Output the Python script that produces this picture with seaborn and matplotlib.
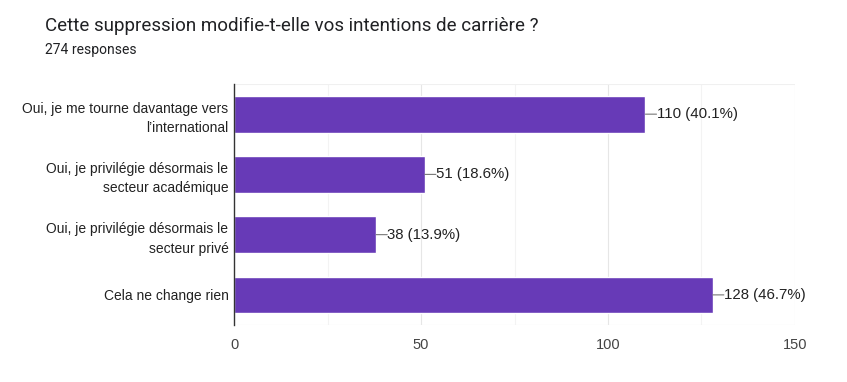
import matplotlib
matplotlib.use("Agg")
import matplotlib.pyplot as plt
import seaborn as sns
import pandas as pd

# data
categories = [
    "Oui, je me tourne davantage vers\nl\u2019international",
    "Oui, je privil\u00e9gie d\u00e9sormais le\nsecteur acad\u00e9mique",
    "Oui, je privil\u00e9gie d\u00e9sormais le\nsecteur priv\u00e9",
    "Cela ne change rien",
]
counts = [110, 51, 38, 128]
percents = [40.1, 18.6, 13.9, 46.7]
x_ticks = [0, 50, 100, 150]
title = "Cette suppression modifie-t-elle vos intentions de carri\u00e8re ?"
subtitle = "274 responses"

df = pd.DataFrame({"answer": categories, "count": counts})

sns.set_style("white")
plt.rcParams["font.family"] = ["Liberation Sans", "DejaVu Sans"]

fig = plt.figure(figsize=(8.47, 3.82), dpi=100)
ax = fig.add_axes([0.2763, 0.1492, 0.9386 - 0.2763, 0.780 - 0.1492])

sns.barplot(data=df, x="count", y="answer", color="#673ab7", saturation=1,
            width=0.61, ax=ax, orient="h")

ax.set_xlim(0, 150)
ax.set_ylim(3.5, -0.5)

# grid lines
for v in [25, 75, 125]:
    ax.axvline(v, color="#f3f3f3", lw=0.8, zorder=0)
for v in [50, 100, 150]:
    ax.axvline(v, color="#e6e6e6", lw=0.8, zorder=0)
ax.axhline(3.5, color="#e6e6e6", lw=0.8, zorder=0)
ax.axhline(-0.5, color="#f0f0f0", lw=0.8, zorder=0)

for s in ["top", "right", "bottom"]:
    ax.spines[s].set_visible(False)
ax.spines["left"].set_color("#333333")
ax.spines["left"].set_linewidth(1.0)

ax.set_xticks(x_ticks)
ax.set_xticklabels([str(t) for t in x_ticks], fontsize=10.5, color="#444444")
ax.tick_params(axis="x", length=0, pad=9)
ax.tick_params(axis="y", length=0, pad=4, labelsize=10, labelcolor="#222222")
for lbl in ax.get_yticklabels():
    lbl.set_horizontalalignment("right")
    lbl.set_multialignment("right")
    lbl.set_linespacing(1.5)
ax.set_xlabel("")
ax.set_ylabel("")

for i, (c, p) in enumerate(zip(counts, percents)):
    # short leader line from the bar end to the label
    ax.annotate("", xy=(c, i), xytext=(8, 0), textcoords="offset points",
                arrowprops=dict(arrowstyle="-", color="#777777", lw=0.8,
                                shrinkA=0, shrinkB=0))
    ax.annotate(f"{c} ({p}%)", xy=(c, i), xytext=(8, 0),
                textcoords="offset points", ha="left", va="center",
                fontsize=10.8, color="#222222")

fig.text(45 / 847, 1 - 26 / 382, title, fontsize=13.5, color="#202124",
         family=["Roboto", "DejaVu Sans"], va="center", ha="left")
fig.text(45 / 847, 1 - 50 / 382, subtitle, fontsize=10, color="#202124",
         family=["Roboto", "DejaVu Sans"], va="center", ha="left")

fig.savefig("out.png", dpi=100)
